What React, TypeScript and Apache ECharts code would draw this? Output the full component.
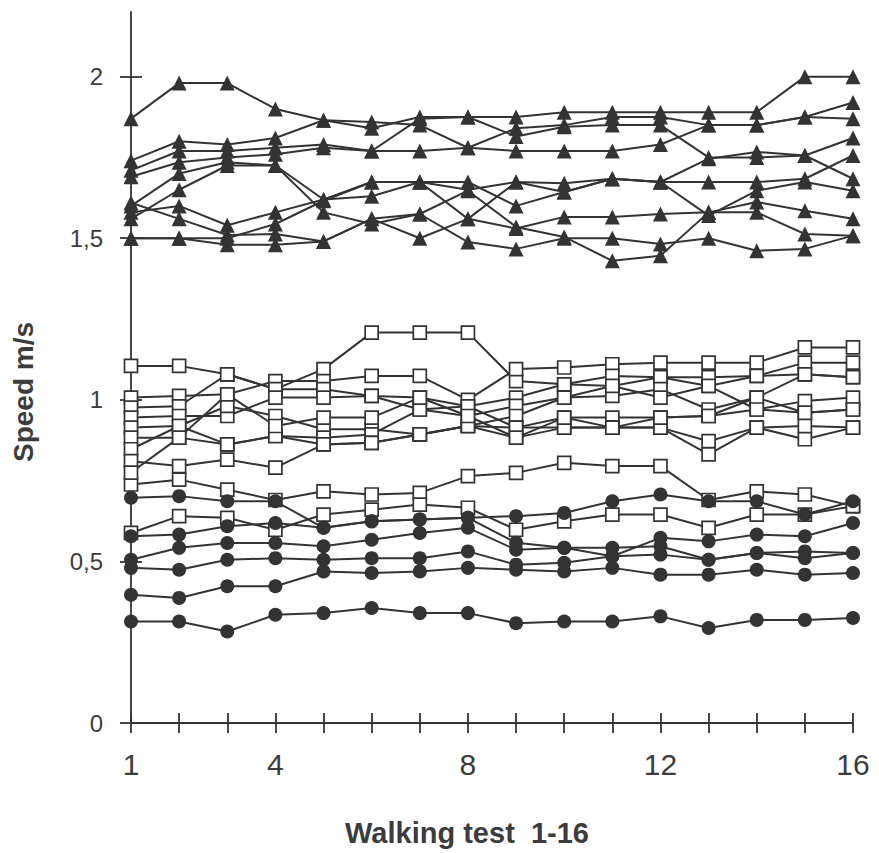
import React, { useEffect, useRef } from "react";
import * as echarts from "echarts";

// Walking tests 1..16
const tests = [1, 2, 3, 4, 5, 6, 7, 8, 9, 10, 11, 12, 13, 14, 15, 16];
const xLabelTicks = [1, 4, 8, 12, 16];
const yTickValues = [0, 0.5, 1, 1.5, 2];
const yTickLabels = ["0", "0,5", "1", "1,5", "2"];

// Triangle group (fast walkers)
const tri1 = [1.87, 1.98, 1.98, 1.9, 1.865, 1.84, 1.875, 1.875, 1.875, 1.89, 1.89, 1.89, 1.89, 1.89, 2.0, 2.0];
const tri2 = [1.74, 1.8, 1.79, 1.81, 1.865, 1.86, 1.85, 1.78, 1.84, 1.85, 1.875, 1.875, 1.85, 1.85, 1.875, 1.92];
const tri3 = [1.71, 1.77, 1.77, 1.78, 1.79, 1.77, 1.77, 1.78, 1.77, 1.77, 1.77, 1.79, 1.85, 1.85, 1.875, 1.87];
const tri4 = [1.69, 1.735, 1.75, 1.76, 1.78, 1.77, 1.87, 1.875, 1.815, 1.845, 1.85, 1.85, 1.75, 1.75, 1.756, 1.81];
const tri5 = [1.6, 1.7, 1.735, 1.725, 1.62, 1.674, 1.674, 1.65, 1.674, 1.67, 1.684, 1.674, 1.674, 1.674, 1.684, 1.756];
const tri6 = [1.58, 1.6, 1.54, 1.58, 1.62, 1.63, 1.674, 1.674, 1.6, 1.643, 1.684, 1.674, 1.746, 1.767, 1.756, 1.684];
const tri7 = [1.56, 1.65, 1.725, 1.725, 1.58, 1.544, 1.575, 1.488, 1.467, 1.5, 1.5, 1.482, 1.5, 1.461, 1.467, 1.508];
const tri8 = [1.5, 1.5, 1.48, 1.48, 1.49, 1.56, 1.5, 1.56, 1.53, 1.566, 1.566, 1.575, 1.58, 1.612, 1.585, 1.56];
const tri9 = [1.61, 1.56, 1.51, 1.513, 1.49, 1.56, 1.575, 1.647, 1.535, 1.504, 1.43, 1.446, 1.58, 1.58, 1.513, 1.508];
const tri10 = [1.5, 1.5, 1.5, 1.544, 1.616, 1.674, 1.674, 1.56, 1.674, 1.643, 1.684, 1.674, 1.57, 1.647, 1.674, 1.647];

// Open-square group (middle)
const sq1 = [0.738, 0.753, 0.722, 0.69, 0.717, 0.707, 0.712, 0.764, 0.774, 0.805, 0.795, 0.795, 0.69, 0.717, 0.707, 0.671];
const sq2 = [0.588, 0.64, 0.635, 0.598, 0.645, 0.66, 0.676, 0.666, 0.598, 0.624, 0.645, 0.645, 0.604, 0.645, 0.645, 0.671];
const sq3 = [1.105, 1.105, 1.079, 1.033, 1.095, 1.208, 1.208, 1.208, 1.058, 1.048, 1.043, 1.07, 1.043, 1.074, 1.079, 1.07];
const sq4 = [1.007, 1.012, 1.017, 1.058, 1.058, 1.074, 1.074, 1.0, 1.095, 1.1, 1.11, 1.115, 1.115, 1.115, 1.162, 1.162];
const sq5 = [0.976, 0.98, 1.079, 1.033, 1.033, 1.012, 1.007, 0.98, 1.007, 1.048, 1.074, 1.07, 1.07, 1.074, 1.115, 1.115];
const sq6 = [0.945, 0.95, 0.95, 1.007, 1.007, 1.012, 0.97, 0.95, 0.981, 1.007, 1.012, 1.033, 0.97, 1.007, 1.079, 1.07];
const sq7 = [0.914, 0.919, 0.981, 0.95, 0.909, 0.909, 0.893, 0.919, 0.95, 1.007, 1.043, 1.007, 1.043, 0.97, 0.996, 1.007];
const sq8 = [0.883, 0.883, 0.862, 0.888, 0.883, 0.893, 0.97, 0.98, 0.914, 0.945, 0.945, 0.945, 0.95, 1.007, 0.96, 0.97];
const sq9 = [0.847, 0.919, 0.862, 0.888, 0.862, 0.867, 0.893, 0.919, 0.883, 0.914, 0.914, 0.914, 0.872, 0.914, 0.919, 0.914];
const sq10 = [0.81, 0.795, 0.815, 0.79, 0.862, 0.867, 0.893, 0.919, 0.914, 0.914, 0.914, 0.914, 0.831, 0.914, 0.878, 0.914];
const sq11 = [0.775, 0.883, 1.017, 0.919, 0.945, 0.945, 1.007, 0.95, 0.883, 0.945, 0.914, 0.945, 0.95, 0.97, 0.96, 0.97];

// Filled-circle group (slow walkers)
const circ1 = [0.314, 0.314, 0.283, 0.335, 0.34, 0.356, 0.34, 0.34, 0.309, 0.314, 0.314, 0.33, 0.294, 0.319, 0.319, 0.325];
const circ2 = [0.397, 0.387, 0.423, 0.423, 0.469, 0.464, 0.469, 0.48, 0.474, 0.469, 0.48, 0.459, 0.459, 0.474, 0.459, 0.464];
const circ3 = [0.48, 0.474, 0.505, 0.51, 0.505, 0.51, 0.51, 0.531, 0.49, 0.496, 0.516, 0.521, 0.505, 0.526, 0.51, 0.526];
const circ4 = [0.505, 0.542, 0.557, 0.557, 0.547, 0.567, 0.588, 0.604, 0.536, 0.542, 0.542, 0.547, 0.505, 0.526, 0.531, 0.526];
const circ5 = [0.578, 0.583, 0.609, 0.619, 0.604, 0.624, 0.63, 0.635, 0.558, 0.542, 0.516, 0.573, 0.562, 0.583, 0.578, 0.619];
const circ6 = [0.697, 0.702, 0.686, 0.686, 0.604, 0.624, 0.63, 0.635, 0.64, 0.65, 0.686, 0.707, 0.686, 0.686, 0.645, 0.686];

const triangleGroup = [tri1, tri2, tri3, tri4, tri5, tri6, tri7, tri8, tri9, tri10];
const squareGroup = [sq1, sq2, sq3, sq4, sq5, sq6, sq7, sq8, sq9, sq10, sq11];
const circleGroup = [circ1, circ2, circ3, circ4, circ5, circ6];

const INK = "#333336";

function toPairs(values: number[]) {
  return values.map((v, i) => [tests[i], v]);
}

export default function App() {
  const ref = useRef<HTMLDivElement>(null);

  useEffect(() => {
    if (!ref.current) return;
    const chart = echarts.init(ref.current, null, { renderer: "svg" });

    const lineBase = {
      type: "line" as const,
      xAxisIndex: 0,
      yAxisIndex: 0,
      clip: false,
      silent: true,
      lineStyle: { color: INK, width: 2 },
    };

    const series: any[] = [];
    triangleGroup.forEach((vals, i) =>
      series.push({
        ...lineBase,
        name: "tri" + (i + 1),
        data: toPairs(vals),
        symbol: "triangle",
        symbolSize: [15, 15],
        itemStyle: { color: INK, borderColor: INK, borderWidth: 0 },
        z: 3,
      })
    );
    squareGroup.forEach((vals, i) =>
      series.push({
        ...lineBase,
        name: "sq" + (i + 1),
        data: toPairs(vals),
        symbol: "rect",
        symbolSize: [13, 13],
        itemStyle: { color: "#ffffff", borderColor: INK, borderWidth: 1.7 },
        z: 4,
      })
    );
    circleGroup.forEach((vals, i) =>
      series.push({
        ...lineBase,
        name: "circ" + (i + 1),
        data: toPairs(vals),
        symbol: "circle",
        symbolSize: 14,
        itemStyle: { color: INK, borderColor: INK, borderWidth: 0 },
        z: 5,
      })
    );

    const axisFont = { fontFamily: "Liberation Sans, Arial, sans-serif", color: "#3c3c3c" };

    chart.setOption({
      animation: false,
      backgroundColor: "#ffffff",
      grid: { left: 131, right: 26, top: 12, bottom: 130, containLabel: false },
      xAxis: [
        {
          type: "value",
          position: "bottom",
          min: 1,
          max: 16,
          interval: 1,
          axisLine: { show: true, onZero: false, lineStyle: { color: INK, width: 1.8 } },
          axisTick: { show: true, inside: false, length: 10, lineStyle: { color: INK, width: 1.8 } },
          axisLabel: {
            show: true,
            margin: 26,
            fontSize: 30,
            ...axisFont,
            formatter: (v: number) => (xLabelTicks.indexOf(v) >= 0 ? String(v) : ""),
          },
          splitLine: { show: false },
        },
        {
          type: "value",
          position: "bottom",
          offset: 0,
          min: 1,
          max: 16,
          interval: 1,
          axisLine: { show: false, onZero: false },
          axisTick: { show: true, inside: true, length: 10, lineStyle: { color: INK, width: 1.8 } },
          axisLabel: { show: false },
          splitLine: { show: false },
        },
      ],
      yAxis: [
        {
          type: "value",
          position: "left",
          min: 0,
          max: 2.2,
          axisLine: { show: true, onZero: false, lineStyle: { color: INK, width: 1.8 } },
          axisTick: {
            show: true,
            inside: false,
            length: 11,
            customValues: yTickValues,
            lineStyle: { color: INK, width: 1.8 },
          },
          axisLabel: {
            show: true,
            margin: 28,
            fontSize: 24,
            ...axisFont,
            customValues: yTickValues,
            formatter: (v: number) => {
              const idx = yTickValues.indexOf(v);
              return idx >= 0 ? yTickLabels[idx] : "";
            },
          },
          splitLine: { show: false },
        },
        {
          type: "value",
          position: "left",
          offset: 0,
          min: 0,
          max: 2.2,
          axisLine: { show: false, onZero: false },
          axisTick: {
            show: true,
            inside: true,
            length: 11,
            customValues: yTickValues,
            lineStyle: { color: INK, width: 1.8 },
          },
          axisLabel: { show: false },
          splitLine: { show: false },
        },
      ],
      graphic: [
        {
          type: "text",
          x: 23,
          y: 392,
          rotation: Math.PI / 2,
          style: {
            text: "Speed m/s",
            fontFamily: "Liberation Sans Narrow, Liberation Sans, Arial, sans-serif",
            fontWeight: "bold",
            fontSize: 28,
            fill: "#3c3c3c",
            align: "center",
            verticalAlign: "middle",
          },
        },
        {
          type: "text",
          x: 467,
          y: 833,
          style: {
            text: "Walking test  1-16",
            fontFamily: "Liberation Sans, Arial, sans-serif",
            fontWeight: "bold",
            fontSize: 29,
            fill: "#3c3c3c",
            align: "center",
            verticalAlign: "middle",
          },
        },
      ],
      series,
    });

    return () => chart.dispose();
  }, []);

  return (
    <div
      ref={ref}
      style={{ position: "fixed", left: 0, top: 0, width: 879, height: 853, background: "#fff" }}
    />
  );
}
